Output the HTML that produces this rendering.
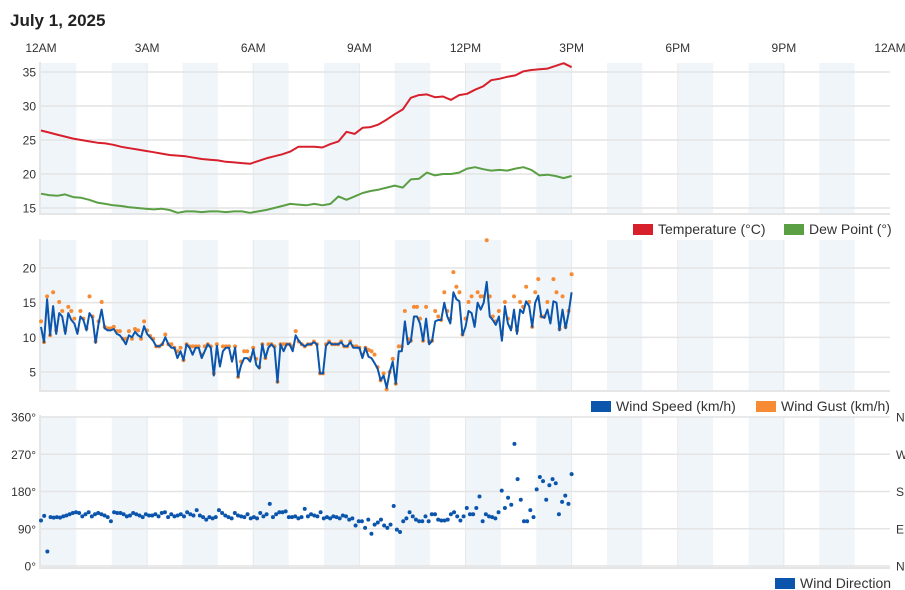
<!DOCTYPE html>
<html><head><meta charset="utf-8"><style>
html,body{margin:0;padding:0;background:#fff;width:905px;height:590px;overflow:hidden}
svg{display:block;font-family:"Liberation Sans",sans-serif}
</style></head><body>
<svg id="c" width="905" height="590" viewBox="0 0 905 590">
<text x="10" y="26" font-size="17" font-weight="bold" fill="#222">July 1, 2025</text>
<g id="bg"></g><g id="marks"></g><g id="labels"></g>
</svg>
<script>
// ---- data ----
const hourTicks = ["12AM","3AM","6AM","9AM","12PM","3PM","6PM","9PM","12AM"];
const tempC = [26.4,26.1,25.8,25.5,25.2,25.0,24.8,24.6,24.5,24.3,24.0,23.8,23.6,23.4,23.2,23.0,22.8,22.7,22.6,22.4,22.2,22.1,22.0,21.8,21.7,21.6,21.5,21.9,22.3,22.6,22.9,23.3,24.0,24.0,24.0,23.9,24.4,24.8,26.2,25.9,26.8,26.9,27.3,28.0,28.8,29.5,31.2,31.6,31.7,31.3,31.4,30.9,31.6,31.8,32.4,32.9,33.8,34.0,34.3,34.5,35.1,35.3,35.4,35.5,35.9,36.3,35.7];
const dewC = [17.1,16.9,16.8,17.0,16.6,16.5,16.2,15.8,15.6,15.4,15.3,15.1,15.0,14.9,14.8,14.9,14.7,14.3,14.5,14.5,14.4,14.5,14.5,14.4,14.5,14.5,14.3,14.5,14.7,15.0,15.3,15.6,15.5,15.4,15.6,15.4,15.6,16.7,16.2,16.7,17.2,17.5,17.7,18.0,18.3,18.0,19.2,19.3,20.2,19.8,20.0,20.0,20.2,20.8,21.0,20.7,20.5,20.6,20.5,20.8,21.0,20.6,19.8,19.9,19.7,19.4,19.7];
const windSpeed = [11.5,9.3,15.5,10.3,14.5,10.5,13.5,13,10.5,13.5,12.5,12,10.5,13,12.5,11,13.5,12.8,9.2,12,14,11.3,11,11,11.2,10.5,10.3,9.7,9,10.3,10,10.8,10.3,10,11.6,10.5,10,9.5,8.7,8.7,9,10,9,8.5,8.5,7,8,6.7,9,8.5,7.5,8.5,8.5,7,8,9,8.5,4.5,8.8,5.8,8,8.5,8.5,6.5,8.5,4.3,6,7,7,6.5,8.3,6,5.5,9,7,8.5,9,8.5,3.5,9,8,9,9,8,10.3,9.5,9,8.7,9,9,9.3,9,4.8,4.8,8.8,9.3,9,9,9,9.3,8.7,8.7,9.3,8.5,8.5,8.5,7,8.5,7.2,7,6.3,5.5,3.8,4.5,2.7,5,6.5,3.3,8,8,12.3,9,9.5,13,13,12,9.5,12.7,9,9.5,12.3,12.5,12.5,15,13,12,16.5,15.5,15.2,10.3,11.5,13.8,13.5,11.5,15,14,15,18,13,12.5,11.8,13,9.5,14.5,12,11,14,10.5,14,13.5,15.2,14.5,11.5,15,16,13,12.8,14,12,15.2,15,11,14,11.3,13.5,16.5];
const windGust = [12.3,9.3,15.9,10.3,16.5,11,15.1,13.8,11,14.4,13.8,12.7,11,13.8,12.7,11.3,15.9,13,9.4,12.3,15.1,11.5,11.3,11.3,11.5,10.9,10.9,9.8,9.8,10.9,9.8,11.2,11,9.8,12.3,11,10.2,9.8,8.7,8.7,9,10.4,9,9,8.5,8,8.5,6.7,9,8.7,8.7,8.7,8.7,7.5,8.7,9,8.7,4.8,9,6.5,8.7,8.7,8.7,7,8.7,4.3,6.5,8,8,7,8.5,6.9,5.7,9,7,9,9,8.7,3.6,9,9,9,9,8.7,10.9,9.4,9,8.7,9,9,9.4,9,4.8,4.8,9,9.4,9,9,9,9.4,8.7,8.7,9.4,8.7,8.7,8.5,7.5,8.5,8.2,8,7.5,5.7,3.8,4.8,2.5,5,6.9,3.3,8.7,8.7,13.8,9.8,9.5,14.4,14.4,12.7,9.5,14.4,9.4,9.5,13.8,13,12.5,16.5,13.8,12.7,19.4,17.3,16.5,10.4,12.7,15.1,15.9,12.3,16.5,15.9,15.9,24,15.9,13,12.3,13.8,10.4,15.1,12.7,11.5,15.9,11,15.1,14.4,17.3,15.1,11.5,16.5,18.4,13,13,15.1,12.7,18.4,16.5,11.2,15.9,11.5,13.8,19.1];
const windDir = [110,121,35,118,117,118,117,120,122,125,128,130,128,120,125,130,120,125,128,125,122,118,108,130,128,128,125,120,122,128,125,122,118,125,122,122,125,120,128,130,118,125,120,122,125,120,130,125,122,135,122,118,112,118,115,118,135,128,122,118,115,128,122,120,118,125,115,118,115,128,120,125,150,118,125,130,130,132,118,118,120,115,118,138,120,125,122,120,130,115,118,115,120,118,115,122,120,112,115,98,108,108,92,112,78,100,105,112,98,92,100,145,88,82,108,115,130,120,112,108,108,120,108,125,125,112,110,110,112,125,130,120,110,120,140,125,125,140,168,108,125,120,118,115,130,182,140,165,148,295,210,160,108,108,135,118,185,215,205,160,195,210,200,125,155,170,150,222];
const tempTicks = [15,20,25,30,35];
const windTicks = [5,10,15,20];
const dirTicks = [0,90,180,270,360];
const dirNames = ["N","E","S","W","N"];
const dataHours = 15;

// ---- axes ----
const X0=41, X1=890;
const xH = h => X0 + (X1-X0)*h/24;
const lin = (d0,d1,r0,r1) => v => r0 + (v-d0)*(r1-r0)/(d1-d0);
const panels = [
  {top:63,bot:213,y:lin(15,35,208,72)},
  {top:240,bot:390,y:lin(5,20,372,268)},
  {top:416,bot:567,y:lin(0,360,566,417)}
];
const NS="http://www.w3.org/2000/svg";
const bg=document.getElementById('bg'), mk=document.getElementById('marks'), lb=document.getElementById('labels');
function el(tag, attrs, parent){const e=document.createElementNS(NS,tag);for(const k in attrs)e.setAttribute(k,attrs[k]);parent.appendChild(e);return e;}

hourTicks.forEach((t,i)=>{
  const e=el('text',{x:xH(i*3),y:52,'font-size':12,fill:'#333','text-anchor':'middle'},lb);
  e.textContent=t;
  
  
});

panels.forEach((p,pi)=>{
  for(let h=0;h<24;h+=2){
    const r=el('rect',{x:xH(h),y:p.top,width:xH(h+1)-xH(h),height:p.bot-p.top,fill:'#f0f5fa'},bg);
    
    
  }
  for(let h=3;h<24;h+=3){
    el('line',{x1:xH(h),x2:xH(h),y1:p.top,y2:p.bot,stroke:'#e8e8e8','stroke-width':1},bg);
  }
  const fl=el('path',{d:`M${X0-1} ${p.top-1}V${p.bot+1}H${X1}`,fill:'none',stroke:'#e6e6e6','stroke-width':2},bg);
  
  
});
function yGrid(p,ticks,fmt){
  ticks.forEach(v=>{
    const y=p.y(v);
    el('line',{x1:X0,x2:X1,y1:y,y2:y,stroke:'#e4e4e4','stroke-width':1.5},bg);
    const t=el('text',{x:36,y:y+4.5,'font-size':12,fill:'#333','text-anchor':'end'},lb);
    t.textContent=fmt(v);
    
    
  });
}
yGrid(panels[0],tempTicks,v=>v);
yGrid(panels[1],windTicks,v=>v);
yGrid(panels[2],dirTicks,v=>v+'°');
dirTicks.forEach((v,i)=>{
  const t=el('text',{x:896,y:panels[2].y(v)+4.5,'font-size':12,fill:'#333'},lb);
  t.textContent=dirNames[i];
  
  
});

function series(arr){return arr.map((v,i)=>[xH(dataHours*i/(arr.length-1)),v]);}
function line(arr,p,color,name){
  const d=series(arr).map((q,i)=>(i?'L':'M')+q[0].toFixed(1)+' '+p.y(q[1]).toFixed(1)).join('');
  const e=el('path',{d:d,fill:'none',stroke:color,'stroke-width':2,'stroke-linejoin':'round'},mk);
  
  
}
function dots(arr,p,color,r,name){
  series(arr).forEach(q=>{
    const c=el('circle',{cx:q[0],cy:p.y(q[1]),r:r,fill:color},mk);
    
    
  });
}
line(tempC,panels[0],'#d7202c','temperature-line');
line(dewC,panels[0],'#5a9f44','dew-point-line');
dots(windGust,panels[1],'#f68b33',2,'wind-gust-point');
line(windSpeed,panels[1],'#0b55ac','wind-speed-line');
dots(windDir,panels[2],'#0b55ac',2,'wind-direction-point');

function legend(x,y,color,text){
  const g=el('g',{},lb);
  
  
  el('rect',{x:x,y:y-10,width:20,height:11,fill:color},g);
  const t=el('text',{x:x+25,y:y,'font-size':14,fill:'#333'},g);
  t.textContent=text;
}
legend(633,234,'#d7202c','Temperature (°C)');
legend(784,234,'#5a9f44','Dew Point (°)');
legend(591,411,'#0b55ac','Wind Speed (km/h)');
legend(756,411,'#f68b33','Wind Gust (km/h)');
legend(775,588,'#0b55ac','Wind Direction');
</script>
</body></html>
